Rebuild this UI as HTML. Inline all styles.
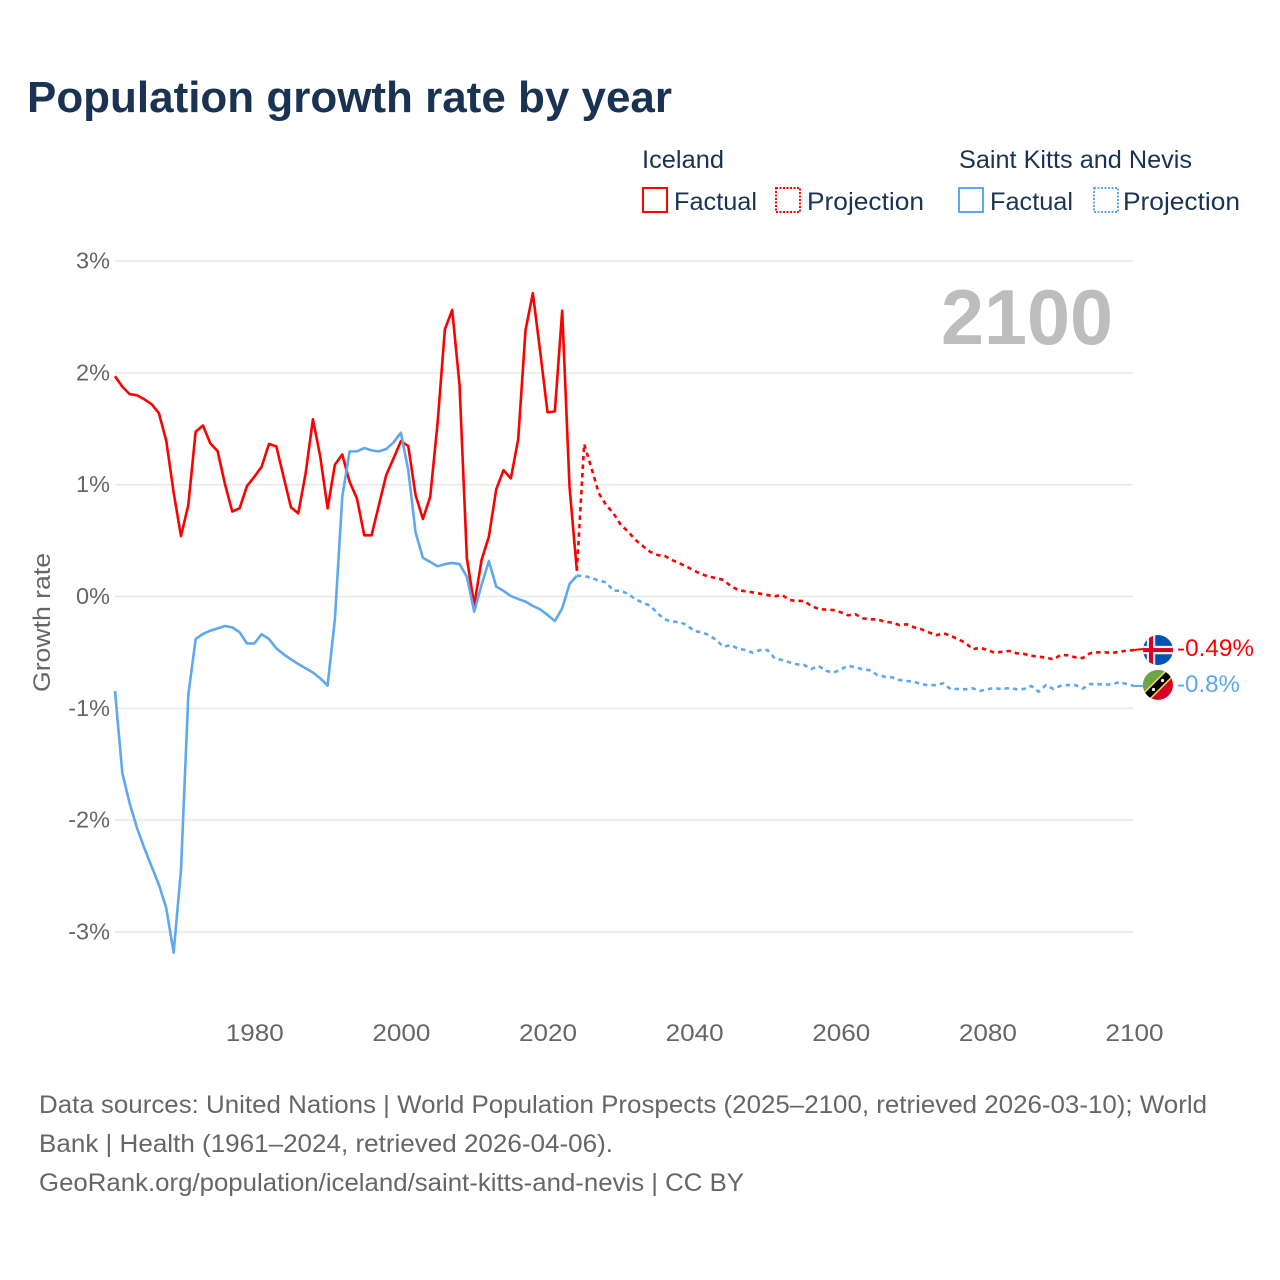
<!DOCTYPE html>
<html lang="en">
<head>
<meta charset="utf-8">
<title>Population growth rate by year</title>
<style>
html,body{margin:0;padding:0;background:#fff;}
svg{display:block;}
text{font-family:"Liberation Sans",sans-serif;}
</style>
</head>
<body>
<svg id="chart" xmlns="http://www.w3.org/2000/svg" width="1280" height="1280" viewBox="0 0 1280 1280">
  <rect width="1280" height="1280" fill="#fff"/>
  <text x="27" y="112" font-size="44" font-weight="700" fill="#1a3353" textLength="645" lengthAdjust="spacingAndGlyphs">Population growth rate by year</text>

  <g font-size="25" fill="#1a3353">
    <text x="642" y="168" textLength="82" lengthAdjust="spacingAndGlyphs">Iceland</text>
    <text x="959" y="168" textLength="233" lengthAdjust="spacingAndGlyphs">Saint Kitts and Nevis</text>
    <rect x="643" y="188" width="24" height="24" fill="none" stroke="#ff0000" stroke-width="2"/>
    <text x="674" y="210" textLength="83" lengthAdjust="spacingAndGlyphs">Factual</text>
    <rect x="776" y="188" width="24" height="24" fill="none" stroke="#ff0000" stroke-width="2" stroke-dasharray="2 1.5"/>
    <text x="807" y="210" textLength="117" lengthAdjust="spacingAndGlyphs">Projection</text>
    <rect x="959" y="188" width="24" height="24" fill="none" stroke="#5fa8ee" stroke-width="2"/>
    <text x="990" y="210" textLength="83" lengthAdjust="spacingAndGlyphs">Factual</text>
    <rect x="1094" y="188" width="24" height="24" fill="none" stroke="#5fa8ee" stroke-width="2" stroke-dasharray="2 1.5"/>
    <text x="1123" y="210" textLength="117" lengthAdjust="spacingAndGlyphs">Projection</text>
  </g>

  <g id="grid"></g>
  <g id="yticks"></g>
  <g id="xticks"></g>

  <text transform="translate(50,622.5) rotate(-90)" text-anchor="middle" font-size="24" fill="#666" textLength="139" lengthAdjust="spacingAndGlyphs">Growth rate</text>
  <text x="941" y="344" font-size="78" font-weight="700" fill="#bdbdbd" textLength="172" lengthAdjust="spacingAndGlyphs">2100</text>

  <g id="series"></g>

  <defs>
    <clipPath id="flag-clip"><circle cx="0" cy="0" r="15"/></clipPath>
  </defs>
  <g id="flag-iceland" clip-path="url(#flag-clip)">
    <rect x="-15" y="-15" width="30" height="30" fill="#0052b4"/>
    <rect x="-15" y="-4.2" width="30" height="8.4" fill="#f0f0f0"/>
    <rect x="-11.2" y="-15" width="8.4" height="30" fill="#f0f0f0"/>
    <rect x="-15" y="-2" width="30" height="4" fill="#d80027"/>
    <rect x="-9" y="-15" width="4" height="30" fill="#d80027"/>
  </g>
  <g id="flag-saint-kitts" clip-path="url(#flag-clip)">
    <rect x="-15" y="-15" width="30" height="30" fill="#d80027"/>
    <polygon points="-15,-15 15,-15 -15,15" fill="#6da544"/>
    <rect x="-25" y="-5" width="50" height="10" fill="#ffda44" transform="rotate(-45)"/>
    <rect x="-25" y="-3.5" width="50" height="7" fill="#000" transform="rotate(-45)"/>
    <circle cx="-4.5" cy="4.5" r="1.6" fill="#f0f0f0"/>
    <circle cx="4.5" cy="-4.5" r="1.6" fill="#f0f0f0"/>
  </g>
  <g id="end-labels"></g>

  <g font-size="25" fill="#666">
    <text x="39" y="1113" textLength="1168" lengthAdjust="spacingAndGlyphs">Data sources: United Nations | World Population Prospects (2025–2100, retrieved 2026-03-10); World</text>
    <text x="39" y="1152" textLength="574" lengthAdjust="spacingAndGlyphs">Bank | Health (1961–2024, retrieved 2026-04-06).</text>
    <text x="39" y="1191" textLength="705" lengthAdjust="spacingAndGlyphs">GeoRank.org/population/iceland/saint-kitts-and-nevis | CC BY</text>
  </g>
</svg>

<script>
const yTickValues = [3, 2, 1, 0, -1, -2, -3];
const yTickLabels = ["3%", "2%", "1%", "0%", "-1%", "-2%", "-3%"];
const xTickYears = [1980, 2000, 2020, 2040, 2060, 2080, 2100];
const factualStartYear = 1961;
const projectionStartYear = 2024;
const icelandFactual = [1.97,1.877,1.81,1.80,1.764,1.72,1.638,1.39,0.93,0.54,0.818,1.474,1.53,1.37,1.30,1.006,0.76,0.79,0.988,1.07,1.16,1.364,1.343,1.07,0.798,0.744,1.10,1.585,1.25,0.789,1.18,1.27,1.027,0.878,0.547,0.547,0.818,1.087,1.236,1.39,1.346,0.908,0.693,0.893,1.55,2.39,2.563,1.89,0.342,-0.076,0.326,0.535,0.958,1.13,1.057,1.406,2.384,2.712,2.19,1.647,1.656,2.556,0.982,0.23];
const kittsFactual = [-0.845,-1.58,-1.85,-2.07,-2.25,-2.416,-2.58,-2.79,-3.186,-2.446,-0.881,-0.38,-0.335,-0.306,-0.285,-0.264,-0.276,-0.32,-0.42,-0.42,-0.338,-0.38,-0.463,-0.517,-0.562,-0.604,-0.642,-0.68,-0.732,-0.798,-0.2,0.893,1.298,1.298,1.328,1.307,1.298,1.319,1.379,1.465,1.13,0.574,0.347,0.309,0.27,0.29,0.30,0.29,0.177,-0.136,0.103,0.318,0.088,0.05,0.004,-0.022,-0.046,-0.085,-0.115,-0.165,-0.219,-0.106,0.112,0.186];
const icelandProjection = [0.23,1.364,1.147,0.923,0.818,0.744,0.64,0.58,0.505,0.452,0.40,0.371,0.362,0.326,0.297,0.267,0.231,0.201,0.177,0.165,0.148,0.094,0.058,0.046,0.037,0.025,0.013,0.002,0.013,-0.031,-0.04,-0.04,-0.085,-0.112,-0.118,-0.121,-0.141,-0.168,-0.159,-0.195,-0.204,-0.204,-0.225,-0.234,-0.255,-0.249,-0.276,-0.293,-0.32,-0.347,-0.329,-0.35,-0.383,-0.413,-0.472,-0.458,-0.479,-0.503,-0.494,-0.487,-0.508,-0.514,-0.53,-0.538,-0.547,-0.562,-0.523,-0.526,-0.544,-0.55,-0.508,-0.499,-0.499,-0.505,-0.494,-0.485,-0.479];
const kittsProjection = [0.186,0.183,0.168,0.141,0.127,0.052,0.052,0.022,-0.025,-0.055,-0.082,-0.15,-0.204,-0.225,-0.228,-0.255,-0.309,-0.32,-0.344,-0.389,-0.449,-0.434,-0.467,-0.479,-0.503,-0.479,-0.479,-0.553,-0.568,-0.589,-0.606,-0.613,-0.648,-0.622,-0.664,-0.682,-0.651,-0.619,-0.633,-0.651,-0.66,-0.702,-0.717,-0.723,-0.747,-0.756,-0.762,-0.785,-0.794,-0.792,-0.776,-0.83,-0.827,-0.83,-0.821,-0.843,-0.83,-0.818,-0.83,-0.818,-0.83,-0.827,-0.8,-0.851,-0.792,-0.827,-0.798,-0.792,-0.792,-0.824,-0.783,-0.783,-0.789,-0.785,-0.765,-0.783,-0.8];
const endLabels = ["-0.49%", "-0.8%"];

const NS = "http://www.w3.org/2000/svg";
const RED = "#ff0000";
const BLUE = "#5fa8ee";
const LINE_WIDTH = 2.6;

function xScale(year) {
  return 115 + (year - 1961) * (1134 - 115) / (2100 - 1961);
}
function yScale(value) {
  return 596.5 - value * 111.8;
}
function make(tag, attrs, parent, content) {
  const el = document.createElementNS(NS, tag);
  for (const key in attrs) el.setAttribute(key, attrs[key]);
  if (content !== undefined) el.textContent = content;
  parent.appendChild(el);
  return el;
}
function linePath(values, startYear) {
  return values.map(function (v, i) {
    return (i ? "L" : "M") + xScale(startYear + i).toFixed(2) + " " + yScale(v).toFixed(2);
  }).join("");
}

const gridGroup = document.getElementById("grid");
const yTickGroup = document.getElementById("yticks");
const xTickGroup = document.getElementById("xticks");
const seriesGroup = document.getElementById("series");
const labelGroup = document.getElementById("end-labels");

yTickValues.forEach(function (v, i) {
  const line = make("line", {x1: 115, x2: 1133, y1: yScale(v), y2: yScale(v), stroke: "#e8e8e8", "stroke-width": 1.5}, gridGroup);
  
  
  const label = make("text", {x: 110, y: yScale(v) + 7.5, "text-anchor": "end", "font-size": 23.5, fill: "#666"}, yTickGroup, yTickLabels[i]);
  
  
});

xTickYears.forEach(function (year) {
  const label = make("text", {x: xScale(year) + 0.5, y: 1041, "text-anchor": "middle", "font-size": 24, fill: "#666", textLength: 58, lengthAdjust: "spacingAndGlyphs"}, xTickGroup, String(year));
  
  
});

const icelandFactualLine = make("path", {d: linePath(icelandFactual, factualStartYear), fill: "none", stroke: RED, "stroke-width": LINE_WIDTH, "stroke-linejoin": "round"}, seriesGroup);



const icelandProjectionLine = make("path", {d: linePath(icelandProjection, projectionStartYear), fill: "none", stroke: RED, "stroke-width": LINE_WIDTH, "stroke-dasharray": "4.5 4"}, seriesGroup);



const kittsFactualLine = make("path", {d: linePath(kittsFactual, factualStartYear), fill: "none", stroke: BLUE, "stroke-width": LINE_WIDTH, "stroke-linejoin": "round"}, seriesGroup);



const kittsProjectionLine = make("path", {d: linePath(kittsProjection, projectionStartYear), fill: "none", stroke: BLUE, "stroke-width": LINE_WIDTH, "stroke-dasharray": "4.5 4"}, seriesGroup);



const icelandLast = icelandProjection[icelandProjection.length - 1];
const kittsLast = kittsProjection[kittsProjection.length - 1];
const flagX = xScale(2100) + 24;

const icelandConnector = make("line", {x1: xScale(2100), x2: flagX - 15, y1: yScale(icelandLast), y2: yScale(icelandLast) - 1, stroke: RED, "stroke-width": 2}, seriesGroup);



const kittsConnector = make("line", {x1: xScale(2100), x2: flagX - 15, y1: yScale(kittsLast), y2: yScale(kittsLast), stroke: BLUE, "stroke-width": 2}, seriesGroup);



document.getElementById("flag-iceland").setAttribute("transform", "translate(" + flagX + "," + yScale(icelandLast) + ")");
document.getElementById("flag-saint-kitts").setAttribute("transform", "translate(" + flagX + "," + (yScale(kittsLast) - 1) + ")");

const icelandEndLabel = make("text", {x: 1177, y: yScale(icelandLast) + 6, "font-size": 24, fill: RED, textLength: 77, lengthAdjust: "spacingAndGlyphs"}, labelGroup, endLabels[0]);



const kittsEndLabel = make("text", {x: 1177, y: yScale(kittsLast) + 6, "font-size": 24, fill: BLUE, textLength: 63, lengthAdjust: "spacingAndGlyphs"}, labelGroup, endLabels[1]);


</script>
</body>
</html>
